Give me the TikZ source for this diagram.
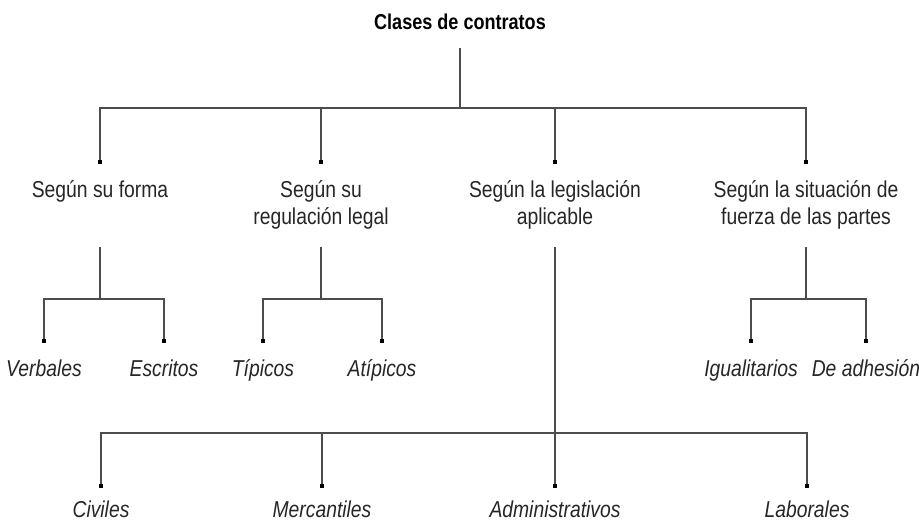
\documentclass[tikz,border=0pt]{standalone}
\usepackage{fontspec}
\setmainfont[FakeStretch=0.84]{Liberation Sans}
\usetikzlibrary{arrows.meta}

\begin{document}
\begin{tikzpicture}[x=1pt,y=-1pt,
  rama/.style={draw=black!70, line width=1.1pt},
  hoja/.style={rama, -{Square[length=4pt,width=4pt,black]}},
  tipo/.style={anchor=north, inner xsep=0pt, inner ysep=16pt, align=center,
    text=black!85, font=\fontsize{23}{27}\selectfont},
  clase/.style={tipo, text height=17pt, text depth=5pt,
    font=\fontsize{23}{27}\selectfont\itshape}]
\useasboundingbox (0,0) rectangle (919,521);

\node [anchor=base, font=\fontsize{21.5}{25}\selectfont\bfseries] (clases) at (460,30) {Clases de contratos};

\node [tipo] (forma) at (100,164) {Según su forma};
\node [tipo] (regul) at (321,164) {Según su\\regulación legal};
\node [tipo] (legis) at (555,164) {Según la legislación\\aplicable};
\node [tipo] (situ) at (806,164) {Según la situación de\\fuerza de las partes};

\node [clase] (verbales) at (44,343) {Verbales};
\node [clase] (escritos) at (164,343) {Escritos};
\node [clase] (tipicos) at (263,343) {Típicos};
\node [clase] (atipicos) at (382,343) {Atípicos};
\node [clase] (igual) at (751,343) {Igualitarios};
\node [clase] (adhesion) at (866,343) {De adhesión};

\node [clase, inner ysep=0pt, text depth=0pt] (civiles) at (101,500) {Civiles};
\node [clase, inner ysep=0pt, text depth=0pt] (mercant) at (322,500) {Mercantiles};
\node [clase, inner ysep=0pt, text depth=0pt] (admin) at (555,500) {Administrativos};
\node [clase, inner ysep=0pt, text depth=0pt] (labor) at (807,500) {Laborales};

\coordinate (j0) at (460,108);
\coordinate (sforma) at (100,247);
\coordinate (jforma) at (100,299);
\coordinate (sregul) at (321,247);
\coordinate (jregul) at (321,299);
\coordinate (slegis) at (555,247);
\coordinate (jlegis) at (555,433);
\coordinate (ssitu) at (806,247);
\coordinate (jsitu) at (806,299);

\draw [rama] ([yshift=-18pt]clases.base) -- (j0);
\foreach \n in {forma,regul,legis,situ}
  \draw [hoja] (j0) -| (\n.north);

\draw [rama] (sforma) -- (jforma);
\draw [hoja] (jforma) -| (verbales.north);
\draw [hoja] (jforma) -| (escritos.north);

\draw [rama] (sregul) -- (jregul);
\draw [hoja] (jregul) -| (tipicos.north);
\draw [hoja] (jregul) -| (atipicos.north);

\draw [rama] (ssitu) -- (jsitu);
\draw [hoja] (jsitu) -| (igual.north);
\draw [hoja] (jsitu) -| (adhesion.north);

\draw [rama] (slegis) -- (jlegis);
\foreach \n in {civiles,mercant,admin,labor}
  \draw [hoja] (jlegis) -| ([yshift=12pt]\n.north);
\end{tikzpicture}
\end{document}
